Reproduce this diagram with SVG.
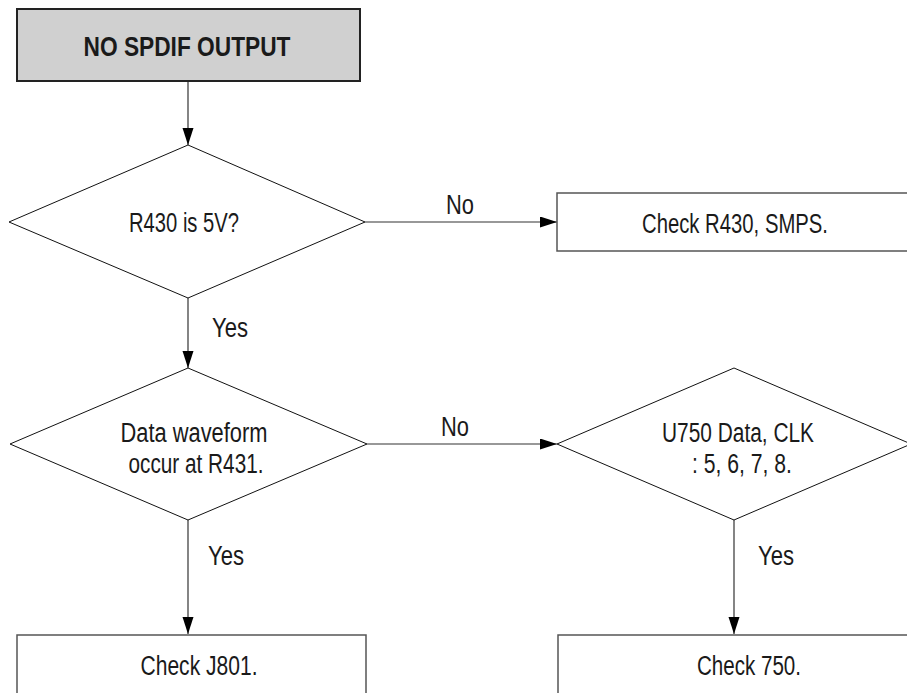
<svg xmlns="http://www.w3.org/2000/svg" width="907" height="693" viewBox="0 0 907 693">
<style>
text{font-family:"Liberation Sans",Arial,sans-serif;font-size:27px;fill:#1a1a1a;text-anchor:middle}
.b{font-weight:bold;font-size:27px}
.box{fill:#fff;stroke:#555;stroke-width:1.5}
.start{fill:#d0d0d0;stroke:#222;stroke-width:2}
.dia{fill:#fff;stroke:#111;stroke-width:1}
.con line{stroke:#333;stroke-width:1.2}
</style>
<defs>
<marker id="ah" markerUnits="userSpaceOnUse" markerWidth="18" markerHeight="12" refX="17" refY="5.5" orient="auto">
<path d="M0,0 L17,5.5 L0,11 Z" fill="#000"/>
</marker>
</defs>
<rect width="907" height="693" fill="#fff"/>
<g class="con">
<line x1="188" y1="81" x2="188" y2="145" marker-end="url(#ah)"/>
<line x1="188" y1="298" x2="188" y2="368" marker-end="url(#ah)"/>
<line x1="365" y1="222" x2="557" y2="222" marker-end="url(#ah)"/>
<line x1="367" y1="444" x2="557" y2="444" marker-end="url(#ah)"/>
<line x1="188" y1="520" x2="188" y2="634" marker-end="url(#ah)"/>
<line x1="734" y1="520" x2="734" y2="634" marker-end="url(#ah)"/>
<text x="460" y="214" textLength="28" lengthAdjust="spacingAndGlyphs">No</text>
<text x="455" y="436" textLength="28" lengthAdjust="spacingAndGlyphs">No</text>
<text x="230" y="337" textLength="36" lengthAdjust="spacingAndGlyphs">Yes</text>
<text x="226" y="565" textLength="36" lengthAdjust="spacingAndGlyphs">Yes</text>
<text x="776" y="565" textLength="36" lengthAdjust="spacingAndGlyphs">Yes</text>
</g>
<g id="start">
<rect class="start" x="17" y="9" width="343" height="72"/>
<text class="b" x="187" y="56" textLength="207" lengthAdjust="spacingAndGlyphs">NO SPDIF OUTPUT</text>
</g>
<g id="d1">
<polygon class="dia" points="188,145 365,222 188,298 9,222"/>
<text x="184" y="232" textLength="110" lengthAdjust="spacingAndGlyphs">R430 is 5V?</text>
</g>
<g id="b1">
<rect class="box" x="557" y="193" width="360" height="58"/>
<text x="735" y="233" textLength="186" lengthAdjust="spacingAndGlyphs">Check R430, SMPS.</text>
</g>
<g id="d2">
<polygon class="dia" points="188,368 367,444 188,520 10,444"/>
<text x="194" y="442" textLength="147" lengthAdjust="spacingAndGlyphs">Data waveform</text>
<text x="196" y="473" textLength="135" lengthAdjust="spacingAndGlyphs">occur at R431.</text>
</g>
<g id="d3">
<polygon class="dia" points="734,368 911,444 734,520 557,444"/>
<text x="738" y="442" textLength="152" lengthAdjust="spacingAndGlyphs">U750 Data, CLK</text>
<text x="742" y="473" textLength="100" lengthAdjust="spacingAndGlyphs">: 5, 6, 7, 8.</text>
</g>
<g id="b2">
<rect class="box" x="17" y="635" width="349" height="70"/>
<text x="199" y="675" textLength="117" lengthAdjust="spacingAndGlyphs">Check J801.</text>
</g>
<g id="b3">
<rect class="box" x="558" y="635" width="360" height="70"/>
<text x="749" y="675" textLength="104" lengthAdjust="spacingAndGlyphs">Check 750.</text>
</g>
</svg>
